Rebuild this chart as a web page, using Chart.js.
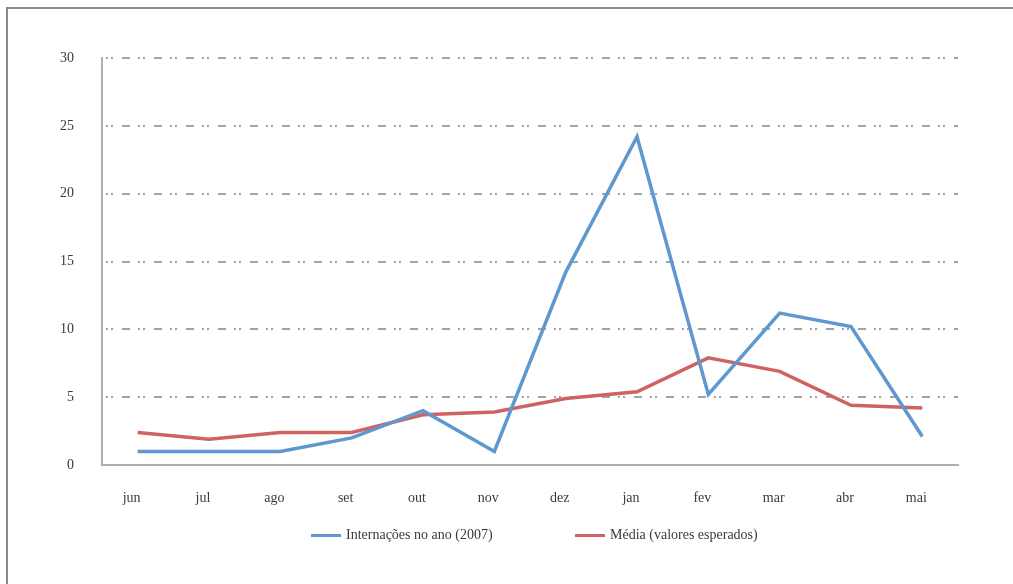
<!DOCTYPE html>
<html>
<head>
<meta charset="utf-8">
<script src="https://cdn.jsdelivr.net/npm/chart.js@4/dist/chart.umd.min.js"></script>
<style>
  html, body { margin: 0; padding: 0; background: #fff; }
  #wrap { position: relative; width: 1013px; height: 584px; overflow: hidden; }
  #frame { position: absolute; left: 6px; top: 7px; width: 1100px; height: 700px;
           border-top: 2px solid #8a8a8a; border-left: 2px solid #8a8a8a; }
  canvas { position: absolute; left: 0; top: 0; }
  .leg { position: absolute; top: 527px; font: 14px "Liberation Serif", serif; color: #3a3a3a;
         display: flex; align-items: center; white-space: nowrap; }
  .leg span.sw { display: inline-block; width: 30px; height: 3px; margin-right: 5px; }
</style>
</head>
<body>
<div id="wrap">
  <div id="frame"></div>
  <canvas id="chart" width="1013" height="584"></canvas>
  <div class="leg" style="left:311px"><span class="sw" style="background:#5f98cf"></span>Internações no ano (2007)</div>
  <div class="leg" style="left:575px"><span class="sw" style="background:#cf6363"></span>Média (valores esperados)</div>
</div>
<script>
// Monthly hospitalisations vs expected average

const months = ['jun', 'jul', 'ago', 'set', 'out', 'nov', 'dez', 'jan', 'fev', 'mar', 'abr', 'mai'];
const internacoes = [1, 1, 1, 2, 4, 1, 14.2, 24.2, 5.2, 11.2, 10.2, 2.1];
const media = [2.4, 1.9, 2.4, 2.4, 3.7, 3.9, 4.9, 5.4, 7.9, 6.9, 4.4, 4.2];
const yTicks = [0, 5, 10, 15, 20, 25, 30];

const axisGray = '#b0b0b0';
const gridGray = '#a3a3a3';
const font = { family: '"Liberation Serif", serif', size: 14 };

new Chart(document.getElementById('chart'), {
  type: 'line',
  data: {
    labels: months,
    datasets: [{
      label: 'Internações no ano (2007)',
      data: internacoes,
      borderColor: '#5f98cf',
      backgroundColor: '#5f98cf',
      borderWidth: 3.5,
      pointRadius: 0,
      tension: 0
    }, {
      label: 'Média (valores esperados)',
      data: media,
      borderColor: '#cf6363',
      backgroundColor: '#cf6363',
      borderWidth: 3.5,
      pointRadius: 0,
      tension: 0
    }]
  },
  options: {
    responsive: false,
    animation: false,
    layout: { padding: { top: 58, right: 55, bottom: 69, left: 0 } },
    scales: {
      x: {
        offset: true,
        grid: { display: false },
        border: { display: true, color: axisGray, width: 2 },
        ticks: { color: '#3a3a3a', font: font, padding: 17, maxRotation: 0, labelOffset: -6 },
        afterFit: function(scale) { scale.height = 50; }
      },
      y: {
        min: 0,
        max: 30,
        afterBuildTicks: function(scale) {
          scale.ticks = yTicks.map(v => ({ value: v }));
        },
        grid: {
          drawTicks: false,
          lineWidth: 2,
          color: c => (c.tick && c.tick.value === 0) ? 'rgba(0,0,0,0)' : gridGray
        },
        border: { display: true, color: axisGray, width: 2, dash: [8, 8, 2, 3, 2, 9], dashOffset: 13 },
        ticks: { color: '#3a3a3a', font: font, padding: 28 },
        afterFit: function(scale) { scale.width = 102; }
      }
    },
    plugins: {
      legend: { display: false },
      tooltip: { enabled: false }
    }
  }
});
</script>
</body>
</html>
